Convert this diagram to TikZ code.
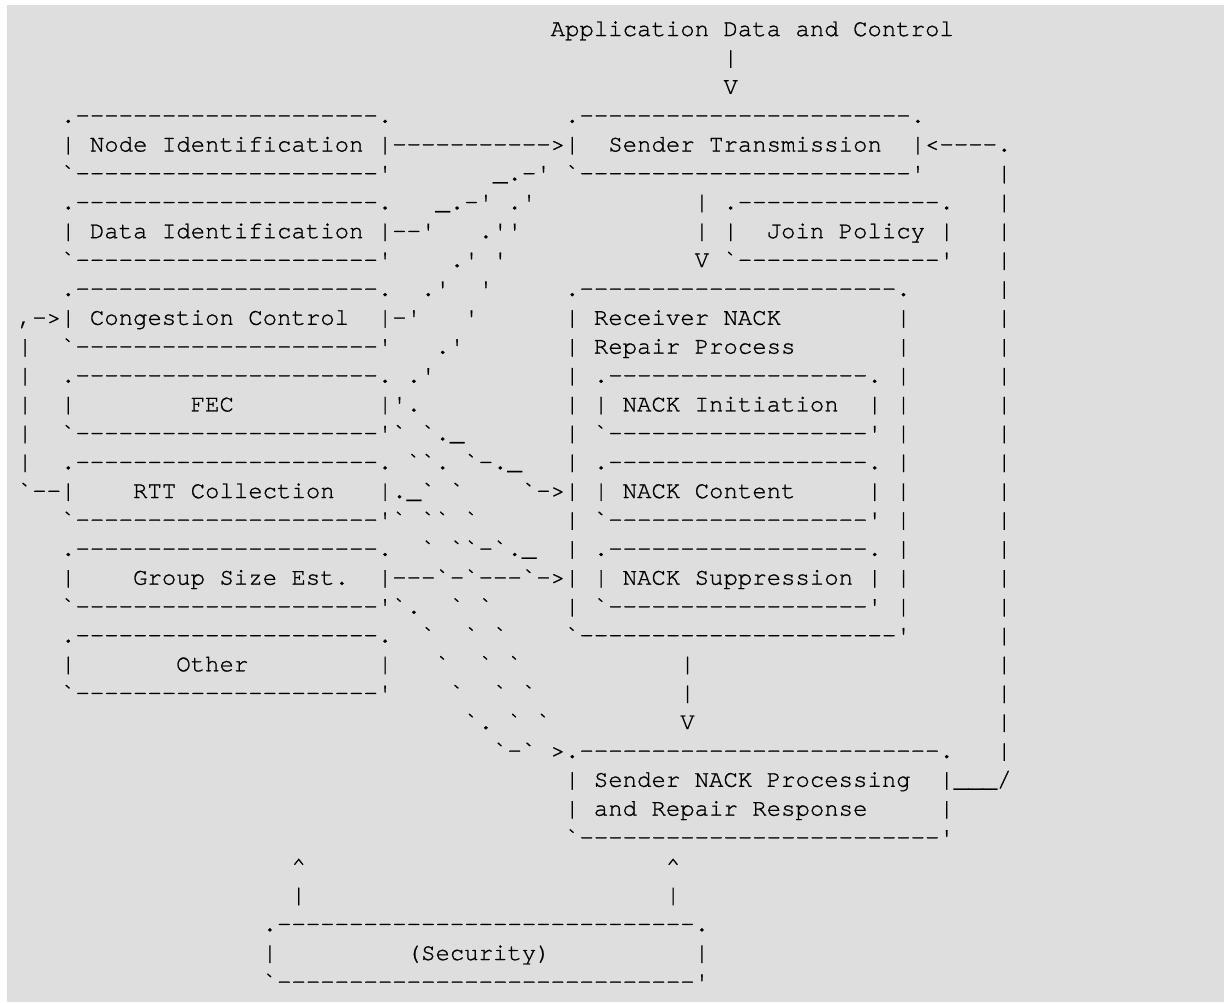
\documentclass[tikz,border=0pt]{standalone}
\usepackage{fontspec}
\setmonofont{TeX Gyre Cursor}[Ligatures=CommonOff, FakeBold=1]
\usepackage{tikz}
\definecolor{pagegray}{RGB}{222,222,222}

% one text row of the plain-text figure, columns 14.4px wide
\newcommand\asciirow[2]{\node[asciiline] (row#1) at (3.5,{36+28.875*#1}) {#2};}
\newcommand\gap[1]{\hskip\dimexpr 7.2pt*#1\relax}
\newcommand\dsh[1]{\foreach\i in {1,...,#1}{-}}

\begin{document}
\begin{tikzpicture}[x=0.5pt, y=-0.5pt
  , asciiline/.style={ anchor = base west
                     , inner sep = 0pt
                     , outer sep = 0pt
                     , text = black
                     , font = \ttfamily\fontsize{12}{14.4}\selectfont\frenchspacing
                     }]

  \useasboundingbox (0,0) rectangle (1224,1002);
  \fill [white] (0,0) rectangle (1224,1002);
  \fill [pagegray] (7,5) rectangle (1224,1002);

  \asciirow{0}{\gap{38}Application Data and Control}
  \asciirow{1}{\gap{50}|}
  \asciirow{2}{\gap{50}V}
  \asciirow{3}{\gap{4}.\dsh{21}.\gap{12}.\dsh{23}.}
  \asciirow{4}{\gap{4}| Node Identification |\dsh{11}>|\gap{2}Sender Transmission\gap{2}|<\dsh{4}.}
  \asciirow{5}{\gap{4}`\dsh{21}'\gap{7}\_.-' `\dsh{23}'\gap{5}|}
  \asciirow{6}{\gap{4}.\dsh{21}.\gap{3}\_.-' .'\gap{11}| .\dsh{14}.\gap{3}|}
  \asciirow{7}{\gap{4}| Data Identification |--'\gap{3}.''\gap{12}| |\gap{2}Join Policy |\gap{3}|}
  \asciirow{8}{\gap{4}`\dsh{21}'\gap{4}.' '\gap{13}V `\dsh{14}'\gap{3}|}
  \asciirow{9}{\gap{4}.\dsh{21}.\gap{2}.'\gap{2}'\gap{5}.\dsh{22}.\gap{6}|}
  \asciirow{10}{\gap{1},->| Congestion Control\gap{2}|-'\gap{3}'\gap{6}| Receiver NACK\gap{8}|\gap{6}|}
  \asciirow{11}{\gap{1}|\gap{2}`\dsh{21}'\gap{3}.'\gap{7}| Repair Process\gap{7}|\gap{6}|}
  \asciirow{12}{\gap{1}|\gap{2}.\dsh{21}. .'\gap{9}| .\dsh{18}. |\gap{6}|}
  \asciirow{13}{\gap{1}|\gap{2}|\gap{8}FEC\gap{10}|'.\gap{10}| | NACK Initiation\gap{2}| |\gap{6}|}
  \asciirow{14}{\gap{1}|\gap{2}`\dsh{21}'` `.\_\gap{7}| `\dsh{18}' |\gap{6}|}
  \asciirow{15}{\gap{1}|\gap{2}.\dsh{21}. ``. `-.\_\gap{3}| .\dsh{18}. |\gap{6}|}
  \asciirow{16}{\gap{1}`--|\gap{4}RTT Collection\gap{3}|.\_` `\gap{4}`->| | NACK Content\gap{5}| |\gap{6}|}
  \asciirow{17}{\gap{4}`\dsh{21}'` `` `\gap{6}| `\dsh{18}' |\gap{6}|}
  \asciirow{18}{\gap{4}.\dsh{21}.\gap{2}` ``-`.\_\gap{2}| .\dsh{18}. |\gap{6}|}
  \asciirow{19}{\gap{4}|\gap{4}Group Size Est.\gap{2}|---`-`---`->| | NACK Suppression | |\gap{6}|}
  \asciirow{20}{\gap{4}`\dsh{21}'`.\gap{2}` `\gap{5}| `\dsh{18}' |\gap{6}|}
  \asciirow{21}{\gap{4}.\dsh{21}.\gap{2}`\gap{2}` `\gap{4}`\dsh{22}'\gap{6}|}
  \asciirow{22}{\gap{4}|\gap{7}Other\gap{9}|\gap{3}`\gap{2}` `\gap{11}|\gap{21}|}
  \asciirow{23}{\gap{4}`\dsh{21}'\gap{4}`\gap{2}` `\gap{10}|\gap{21}|}
  \asciirow{24}{\gap{32}`. ` `\gap{9}V\gap{21}|}
  \asciirow{25}{\gap{34}`-` >.\dsh{25}.\gap{3}|}
  \asciirow{26}{\gap{39}| Sender NACK Processing\gap{2}|\_\_\_/}
  \asciirow{27}{\gap{39}| and Repair Response\gap{5}|}
  \asciirow{28}{\gap{39}`\dsh{25}'}
  \asciirow{29}{\gap{20}\textasciicircum\gap{25}\textasciicircum}
  \asciirow{30}{\gap{20}|\gap{25}|}
  \asciirow{31}{\gap{18}.\dsh{29}.}
  \asciirow{32}{\gap{18}|\gap{9}(Security)\gap{10}|}
  \asciirow{33}{\gap{18}`\dsh{29}'}

\end{tikzpicture}
\end{document}
